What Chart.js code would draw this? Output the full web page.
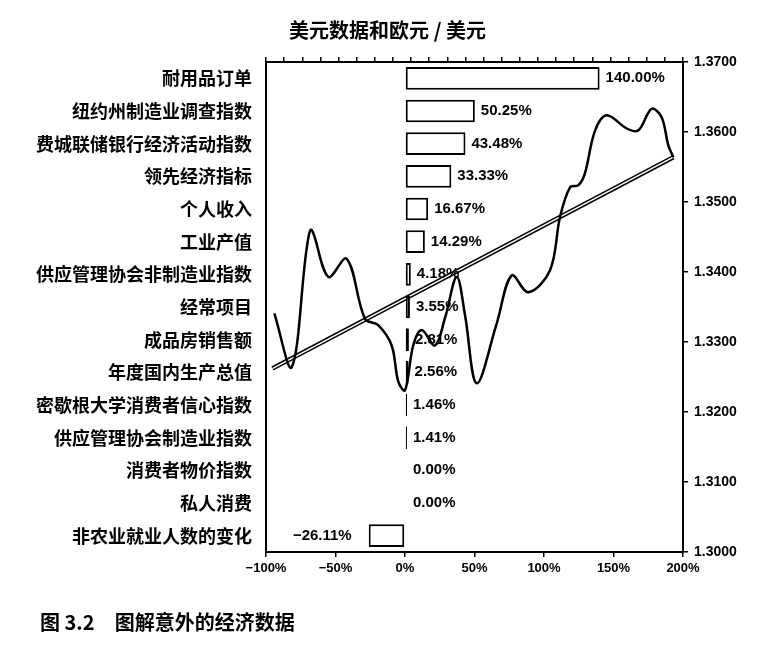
<!DOCTYPE html>
<html>
<head>
<meta charset="utf-8">
<script src="https://cdn.jsdelivr.net/npm/chart.js@4/dist/chart.umd.min.js"></script>
<style>
  body { margin: 0; background: #fff; }
  #wrap { position: relative; width: 775px; height: 648px; }
  #caption {
    position: absolute; left: 40px; top: 607px;
    font: bold 20px "Noto Sans CJK SC", sans-serif; color: #000;
  }
</style>
</head>
<body>
<div id="wrap">
  <canvas id="surpriseChart" width="775" height="648"></canvas>
  <div id="caption">图 3.2　图解意外的经济数据</div>
</div>
<script>
// Categories and surprise values (%)
const categories = [
  "耐用品订单", "纽约州制造业调查指数", "费城联储银行经济活动指数", "领先经济指标",
  "个人收入", "工业产值", "供应管理协会非制造业指数", "经常项目", "成品房销售额",
  "年度国内生产总值", "密歇根大学消费者信心指数", "供应管理协会制造业指数",
  "消费者物价指数", "私人消费", "非农业就业人数的变化"
];
const surprisePct = [140.00, 50.25, 43.48, 33.33, 16.67, 14.29, 4.18, 3.55, 2.81, 2.56, 1.46, 1.41, 0.00, 0.00, -26.11];
const pctTicks = [-100, -50, 0, 50, 100, 150, 200];

// EUR/USD (t = position along the top tick axis, 0..23)
const rateTicks = [1.30, 1.31, 1.32, 1.33, 1.34, 1.35, 1.36, 1.37];
const eurusdT = [0.46, 1.42, 2.24, 2.52, 3.44, 4.45, 5.46, 6.19, 6.93, 7.30, 7.67, 8.12, 8.59, 9.32, 9.87,
  10.52, 10.98, 11.62, 12.72, 13.55, 14.47, 15.66, 16.22, 16.77, 17.23, 17.59, 18.15, 18.79,
  19.90, 20.53, 21.27, 21.82, 22.19, 22.47];
const eurusdRate = [1.3341, 1.3264, 1.3433, 1.3460, 1.3393, 1.3419, 1.3333, 1.3324, 1.3295, 1.3243, 1.3231,
  1.3295, 1.3317, 1.3295, 1.3334, 1.3393, 1.3338, 1.3241, 1.3326, 1.3395, 1.3371, 1.3402, 1.3479,
  1.3521, 1.3524, 1.3541, 1.3602, 1.3624, 1.3605, 1.3602, 1.3633, 1.3621, 1.3581, 1.3564];
const trendT = [0.35, 22.47];
const trendRate = [1.3262, 1.3564];

const toPoints = (xs, ys) => xs.map((x, i) => ({ x: x, y: ys[i] }));
const fmtPct = v => (v < 0 ? "\u2212" + Math.abs(v).toFixed(2) : v.toFixed(2)) + "%";

Chart.defaults.font.family = "'Liberation Sans', Arial, sans-serif";
Chart.defaults.color = "#000";

// value labels next to each bar end
const barLabels = {
  id: "barLabels",
  afterDatasetsDraw(chart) {
    const meta = chart.getDatasetMeta(0);
    const ctx = chart.ctx;
    ctx.save();
    ctx.font = "bold 15px 'Liberation Sans', Arial, sans-serif";
    ctx.fillStyle = "#000";
    ctx.textBaseline = "middle";
    meta.data.forEach((bar, i) => {
      const v = surprisePct[i];
      if (v < 0) {
        ctx.textAlign = "right";
        ctx.fillText(fmtPct(v), bar.x - 17, bar.y);
      } else {
        ctx.textAlign = "left";
        ctx.fillText(fmtPct(v), Math.max(bar.x, bar.base) + (v === 0 ? 8 : 6), bar.y);
      }
    });
    ctx.restore();
  }
};

const axisGrid = { drawOnChartArea: false, drawTicks: true, tickLength: 5, color: "#000", lineWidth: 1.5 };
const axisBorder = { display: true, color: "#000", width: 2 };

const ctx = document.getElementById("surpriseChart").getContext("2d");
new Chart(ctx, {
  type: "bar",
  data: {
    labels: categories,
    datasets: [
      {
        type: "bar",
        indexAxis: "y",
        data: surprisePct,
        xAxisID: "x",
        yAxisID: "y",
        backgroundColor: "#fff",
        borderColor: "#000",
        borderWidth: 2,
        borderSkipped: false,
        grouped: false,
        barPercentage: 0.87,
        order: 0
      },
      {
        type: "line",
        indexAxis: "x",
        data: toPoints(eurusdT, eurusdRate),
        xAxisID: "x2",
        yAxisID: "y2",
        borderColor: "#000",
        borderWidth: 2.5,
        pointRadius: 0,
        tension: 0.35,
        order: 1
      },
      {
        type: "line",
        indexAxis: "x",
        data: toPoints(trendT, trendRate),
        xAxisID: "x2",
        yAxisID: "y2",
        borderColor: "#fff",
        borderWidth: 1.5,
        pointRadius: 0,
        order: 2
      },
      {
        type: "line",
        indexAxis: "x",
        data: toPoints(trendT, trendRate),
        xAxisID: "x2",
        yAxisID: "y2",
        borderColor: "#000",
        borderWidth: 4.5,
        pointRadius: 0,
        order: 3
      }
    ]
  },
  options: {
    responsive: false,
    animation: false,
    layout: { padding: 0 },
    scales: {
      x: {
        type: "linear",
        position: "bottom",
        offset: false,
        min: -100,
        max: 200,
        afterBuildTicks: s => { s.ticks = pctTicks.map(v => ({ value: v })); },
        afterFit: s => { s.height = 96; },
        grid: Object.assign({ offset: false }, axisGrid),
        border: axisBorder,
        ticks: {
          padding: 4,
          font: { size: 13, weight: "bold" },
          callback: v => (v < 0 ? "\u2212" + Math.abs(v) : v) + "%"
        }
      },
      x2: {
        type: "linear",
        position: "top",
        offset: false,
        min: 0,
        max: 23,
        afterFit: s => { s.height = 20; },
        grid: Object.assign({ offset: false }, axisGrid),
        border: axisBorder,
        ticks: { display: false, stepSize: 1, autoSkip: false }
      },
      y: {
        type: "category",
        position: "left",
        offset: true,
        afterFit: s => { s.width = 266; },
        grid: { display: true, offset: true, drawOnChartArea: false, drawTicks: false },
        border: axisBorder,
        ticks: {
          padding: 14,
          font: { family: "'Noto Sans CJK SC', sans-serif", size: 18, weight: "bold" }
        }
      },
      y2: {
        type: "linear",
        position: "right",
        offset: false,
        min: 1.30,
        max: 1.37,
        afterBuildTicks: s => { s.ticks = rateTicks.map(v => ({ value: v })); },
        afterFit: s => { s.width = 92; },
        grid: axisGrid,
        border: axisBorder,
        ticks: {
          padding: 6,
          font: { size: 14, weight: "bold" },
          callback: v => v.toFixed(4)
        }
      }
    },
    plugins: {
      legend: { display: false },
      tooltip: { enabled: false },
      title: {
        display: true,
        text: "美元数据和欧元 / 美元",
        color: "#000",
        font: { family: "'Noto Sans CJK SC', sans-serif", size: 20, weight: "bold" },
        padding: { top: 18, bottom: 0 }
      }
    }
  },
  plugins: [barLabels]
});
</script>
</body>
</html>
